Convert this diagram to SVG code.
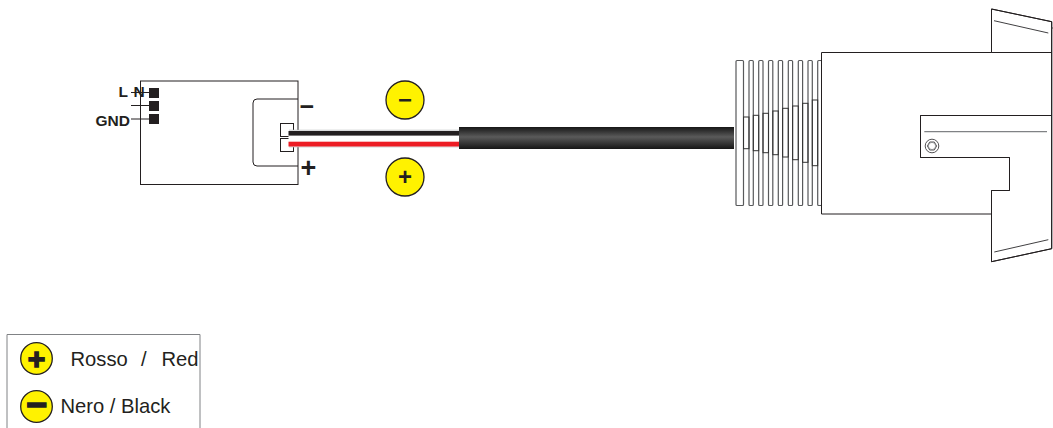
<svg xmlns="http://www.w3.org/2000/svg" width="1053" height="428" viewBox="0 0 1053 428">
<style>
.ln{fill:none;stroke:#231f20;stroke-width:1}
.fin{fill:#fff;stroke:#58595b;stroke-width:1.2}
.gap{fill:none;stroke:#333;stroke-width:1}
.pad{fill:#231f20}
.lab{font-family:"Liberation Sans",Arial,sans-serif;font-weight:700;fill:#231f20}
.leg{font-family:"Liberation Sans",Arial,sans-serif;font-size:20.200px;fill:#231f20}
.dot{fill:#fff200;stroke:#231f20;stroke-width:1.3}
.sym{font-family:"Liberation Sans",Arial,sans-serif;font-weight:700;fill:#231f20;text-anchor:middle}
</style>
<defs>
<linearGradient id="cab" x1="0" y1="0" x2="0" y2="1">
<stop offset="0" stop-color="#161616"/><stop offset=".45" stop-color="#5a5a5a"/><stop offset="1" stop-color="#161616"/>
</linearGradient>
</defs>
<g id="driver">
<rect class="ln" x="140.500" y="81" width="157.500" height="103.500"/>
<path class="ln" d="M298 99H257a4 4 0 0 0-4 4V162a4 4 0 0 0 4 4H298"/>
<rect class="ln" x="280.500" y="123.500" width="13" height="13" style="fill:#fff"/>
<rect class="ln" x="280.500" y="138.500" width="13" height="13" style="fill:#fff"/>
<rect class="pad" x="149" y="88" width="10" height="10"/>
<rect class="pad" x="149" y="101" width="10" height="10"/>
<rect class="pad" x="149" y="114" width="10" height="10"/>
<text class="lab" x="118.500" y="97" font-size="15.500">L</text>
<text class="lab" x="133.500" y="97" font-size="15.500">N</text>
<text class="lab" x="95.500" y="125.500" font-size="15.500">GND</text>
<path class="ln" d="M131 92.500H149M131 105.500H149M131 119H149"/>
<text class="lab" x="299.500" y="115" font-size="25">−</text>
<text class="lab" x="300.500" y="176.500" font-size="27">+</text>
</g>
<g id="connectors">
<rect x="288.500" y="130" width="171" height="17" fill="#fff"/>
<path d="M289 130.200H459M289 146.900H459" stroke="#bcbec0" stroke-width=".8" fill="none"/>
<rect x="288.500" y="131" width="171" height="4.600" fill="#231f20"/>
<rect x="288.500" y="141.700" width="171" height="4.800" fill="#ed1c24"/>
<rect x="459" y="127" width="275" height="22" fill="url(#cab)"/>
</g>
<g id="minus-badge">
<circle class="dot" cx="405" cy="100" r="19"/>
<text class="sym" x="405" y="108" font-size="24">−</text>
</g>
<g id="plus-badge">
<circle class="dot" cx="405" cy="177" r="19"/>
<text class="sym" x="405" y="185" font-size="24">+</text>
</g>
<g id="lamp">
<rect class="fin" x="736" y="60.500" width="7.500" height="145" rx="1"/>
<rect class="fin" x="749" y="60.500" width="4.300" height="145" rx="1"/>
<rect class="fin" x="758.700" y="60.500" width="4.300" height="145" rx="1"/>
<rect class="fin" x="768.500" y="60.500" width="4.300" height="145" rx="1"/>
<rect class="fin" x="778.300" y="60.500" width="4.300" height="145" rx="1"/>
<rect class="fin" x="788.300" y="60.500" width="4.300" height="145" rx="1"/>
<rect class="fin" x="798.300" y="60.500" width="4.300" height="145" rx="1"/>
<rect class="fin" x="808" y="60.500" width="4.300" height="145" rx="1"/>
<rect class="fin" x="817.700" y="60.500" width="4" height="145" rx="1"/>
<rect class="gap" x="743.500" y="117" width="5.500" height="31.700"/>
<rect class="gap" x="753.300" y="115.300" width="5.400" height="35.400"/>
<rect class="gap" x="763" y="113.300" width="5.500" height="39.400"/>
<rect class="gap" x="772.800" y="111" width="5.500" height="43.700"/>
<rect class="gap" x="782.600" y="108.300" width="5.700" height="48.700"/>
<rect class="gap" x="792.600" y="106" width="5.700" height="53.700"/>
<rect class="gap" x="802.600" y="103.300" width="5.400" height="59"/>
<rect class="gap" x="812.300" y="100" width="5.400" height="65.700"/>
<path class="ln" style="fill:#fff" d="M821.500 52.500H991.500V9L1051.700 21.700V248.700L991.500 261.700V190.500H1009.500V157.500H920.500V115.500H1051.700M991.500 214H821.500V52.500M991.500 52.500H1051.700"/>
<path class="ln" d="M991.500 52.500V9L1051.700 21.700V248.700L991.500 261.700V190.500H1009.500V157.500H920.500V115.500H1051.700"/>
<path d="M994 20.700L1048.300 33M994.300 252L1048.300 239.700" stroke="#414042" stroke-width="1" fill="none"/>
<path d="M924.300 131.700H1047" stroke="#808285" stroke-width="1.300" fill="none"/>
<path d="M1051.500 28H1053" stroke="#414042" stroke-width="1" fill="none"/>
<circle cx="932" cy="146" r="6.800" fill="#fff" stroke="#414042" stroke-width=".9"/>
<path d="M929.700 142h4.600l2.300 4-2.300 4h-4.600l-2.300-4z" fill="none" stroke="#414042" stroke-width=".9"/>
<circle cx="932" cy="146" r="3.600" fill="none" stroke="#808285" stroke-width=".7"/>
</g>
<g id="legend">
<path d="M7 428V334.500H200V428" fill="none" stroke="#808285" stroke-width="1"/>
<circle class="dot" cx="36.500" cy="358.500" r="15.800"/>
<text class="sym" x="36.500" y="368.500" font-size="30" stroke="#231f20" stroke-width="1.500">+</text>
<text class="leg" y="365.500"><tspan x="70.500">Rosso</tspan><tspan x="141">/</tspan><tspan x="161.500">Red</tspan></text>
<circle class="dot" cx="36.500" cy="406.500" r="15.800"/>
<text class="sym" x="36.500" y="416.500" font-size="36" stroke="#231f20" stroke-width="1.500">−</text>
<text class="leg" x="60.500" y="413">Nero / Black</text>
</g>
</svg>
